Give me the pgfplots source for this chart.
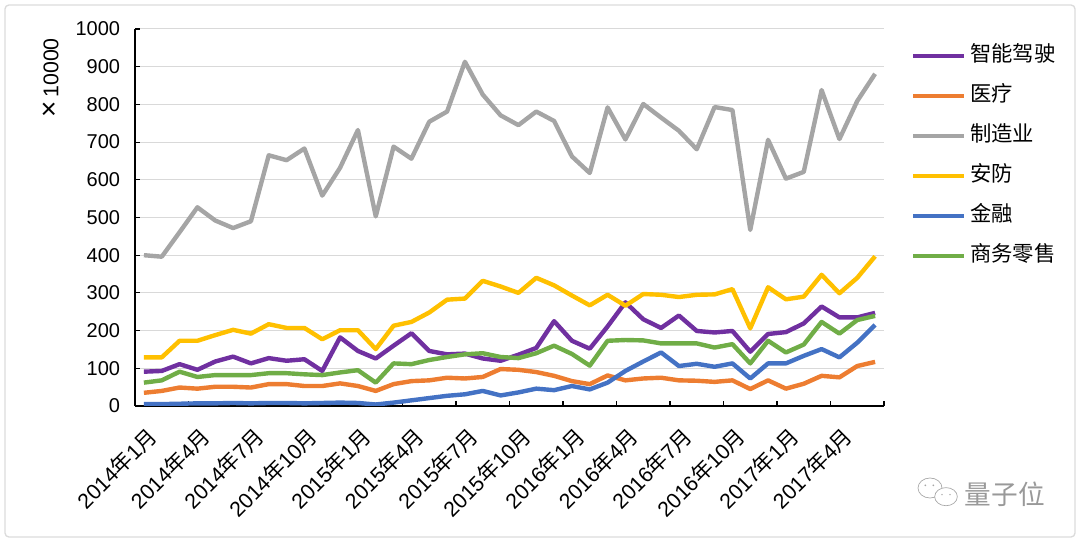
\documentclass[border=0pt]{standalone}
\usepackage{pgfplots}
\pgfplotsset{compat=1.18}
\usepackage{pgfplotstable}
\usepackage{fontspec}
\setmainfont{Liberation Sans}
\newfontfamily\cjk{Noto Sans CJK SC}
\definecolor{cpurple}{HTML}{7030A0}
\definecolor{corange}{HTML}{ED7D31}
\definecolor{cgray}{HTML}{A5A5A5}
\definecolor{cyellow}{HTML}{FFC000}
\definecolor{cblue}{HTML}{4472C4}
\definecolor{cgreen}{HTML}{70AD47}
\newcommand{\ym}[2]{#1{\cjk 年}#2{\cjk 月}}

\pgfplotstableread{
i zn yl zz af jr sw
0 91 35 400 129 5 62
1 93 40 396 129 5 68
2 111 49 461 173 6 91
3 96 46 527 173 7 77
4 118 51 492 188 7 82
5 131 51 472 202 8 82
6 113 49 490 192 7 82
7 127 58 665 217 8 87
8 120 58 652 207 8 87
9 124 53 683 207 7 84
10 93 53 558 177 8 82
11 182 60 632 201 9 89
12 146 53 732 201 8 95
13 126 40 503 151 4 62
14 160 58 688 213 9 113
15 193 66 656 223 15 111
16 146 68 754 248 21 122
17 137 75 781 282 27 130
18 139 73 913 285 31 137
19 126 77 826 332 40 140
20 120 98 771 317 28 130
21 136 96 745 300 36 127
22 154 90 781 340 46 140
23 225 80 756 320 42 160
24 173 66 662 293 53 138
25 152 58 618 267 44 107
26 211 81 792 295 62 173
27 275 68 707 266 93 175
28 230 73 801 297 118 174
29 207 75 765 295 142 166
30 240 68 730 289 106 166
31 199 67 681 295 112 166
32 195 64 793 296 104 155
33 199 68 785 310 113 164
34 144 45 467 206 73 113
35 191 68 706 315 113 173
36 196 46 603 283 113 142
37 219 59 621 290 133 163
38 264 80 838 348 151 223
39 235 76 708 299 129 192
40 235 106 809 340 168 228
41 247 117 881 397 215 239
}\data

\begin{document}
\begin{tikzpicture}[x=1pt,y=1pt]
\path[use as bounding box] (0,0) rectangle (810,406.5);
\draw[rounded corners=3pt, color=black!14, line width=1pt] (3.75,3.75) rectangle (806.25,402.75);
\begin{axis}[
  at={(101.25pt,102pt)}, anchor=south west,
  width=561.75pt, height=282.75pt, scale only axis,
  xmin=-0.5, xmax=41.5, ymin=0, ymax=1000,
  axis x line*=bottom, axis y line*=left,
  axis line style={black, line width=0.9pt},
  tick align=inside, major tick length=3.5pt,
  tick style={black, line width=0.8pt},
  xtick={-0.5,2.5,...,41.5},
  xticklabel={\relax},
  ytick={0,100,...,1000},
  yticklabel style={inner sep=0pt, xshift=-11pt, font=\fontsize{15}{18}\selectfont, /pgf/number format/1000 sep={}},
  /pgf/number format/assume math mode=true,
  ymajorgrids, grid style={color=black!15, line width=0.75pt},
  legend image code/.code={\draw[#1] (0pt,0pt) -- (38pt,0pt);},
  legend style={at={(1.036,0.955)}, anchor=north west, draw=none, fill=none, inner sep=0pt, outer sep=0pt,
    font=\cjk\fontsize{16}{19}\selectfont, row sep=15pt, column sep=3pt,
    nodes={inner sep=0pt, text height=12pt, text depth=3pt}},
  legend cell align=left,
  every axis plot/.append style={line width=3.3pt, line join=round, mark=none},
]
\addplot[cpurple] table[x=i,y=zn]{\data};
\addlegendentry{智能驾驶}
\addplot[corange] table[x=i,y=yl]{\data};
\addlegendentry{医疗}
\addplot[cgray] table[x=i,y=zz]{\data};
\addlegendentry{制造业}
\addplot[cyellow] table[x=i,y=af]{\data};
\addlegendentry{安防}
\addplot[cblue] table[x=i,y=jr]{\data};
\addlegendentry{金融}
\addplot[cgreen] table[x=i,y=sw]{\data};
\addlegendentry{商务零售}
\end{axis}
% category labels, rotated 45 degrees (category i at 101.25+(i+0.5)*13.375)
\foreach \i/\yr/\mo in {0/2014/1,3/2014/4,6/2014/7,9/2014/10,12/2015/1,15/2015/4,18/2015/7,21/2015/10,24/2016/1,27/2016/4,30/2016/7,33/2016/10,36/2017/1,39/2017/4}{
  \node[rotate=45, anchor=east, inner sep=0pt, font=\fontsize{16}{19}\selectfont] at ({101.25+(\i+0.5)*13.375+6.75},82.5) {\ym{\yr}{\mo}};
}
\node[rotate=90, anchor=east, font=\fontsize{16}{19}\selectfont, inner sep=0pt] at (38,378) {{\fontsize{21}{21}\selectfont ×}\,10000};
% watermark
\begin{scope}[draw=black!35, line width=0.5pt]
\draw[fill=white] (697.5,40.5) ellipse (9 and 7.5);
\draw[fill=white] (709.5,34) ellipse (8.5 and 6.8);
\fill[black!35] (694,42.5) circle (0.7); \fill[black!35] (700,42.5) circle (0.7);
\fill[black!35] (706.5,35.5) circle (0.6); \fill[black!35] (712.5,35.5) circle (0.6);
\end{scope}
\node[anchor=west, inner sep=0pt, text=black!40, font=\cjk\fontsize{20}{24}\selectfont] at (723.5,36) {量子位};
\end{tikzpicture}
\end{document}
